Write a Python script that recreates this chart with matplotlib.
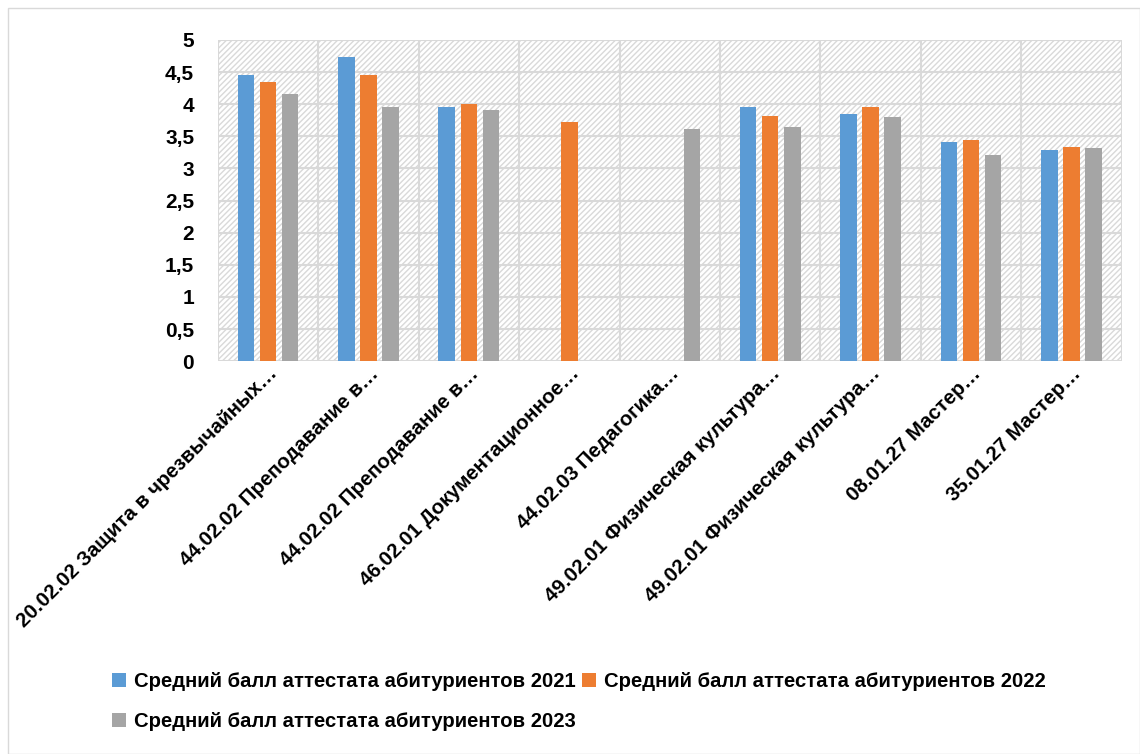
import numpy as np
import matplotlib
matplotlib.use('Agg')
import matplotlib.pyplot as plt
from matplotlib.patches import Rectangle
from matplotlib.transforms import ScaledTranslation

plt.rcParams['font.family'] = ['Liberation Sans', 'DejaVu Sans']
plt.rcParams['hatch.color'] = '#d9d9d9'
plt.rcParams['hatch.linewidth'] = 1.0

categories = ['20.02.02 Защита в чрезвычайных…',
              '44.02.02 Преподавание в…',
              '44.02.02 Преподавание в…',
              '46.02.01 Документационное…',
              '44.02.03 Педагогика…',
              '49.02.01 Физическая культура…',
              '49.02.01 Физическая культура…',
              '08.01.27 Мастер…',
              '35.01.27 Мастер…']
series_names = ['Средний балл аттестата абитуриентов 2021',
                'Средний балл аттестата абитуриентов 2022',
                'Средний балл аттестата абитуриентов 2023']
v2021 = [4.45, 4.73, 3.96, np.nan, np.nan, 3.96, 3.85, 3.41, 3.29]
v2022 = [4.35, 4.45, 4.00, 3.72, np.nan, 3.82, 3.96, 3.44, 3.33]
v2023 = [4.16, 3.96, 3.91, np.nan, 3.61, 3.64, 3.80, 3.21, 3.32]
colors = ['#5b9bd5', '#ed7d31', '#a5a5a5']
yticks = [0, 0.5, 1, 1.5, 2, 2.5, 3, 3.5, 4, 4.5, 5]

fig = plt.figure(figsize=(11.4, 7.54), dpi=100)
fig.patches.append(Rectangle((0.007, 0.0), 0.993, 0.99, transform=fig.transFigure,
                             fill=False, edgecolor='#d9d9d9', linewidth=1))
ax = fig.add_axes([0.191, 0.521, 0.793, 0.426])

n = len(categories)
x = np.arange(n)
ax.set_xlim(-0.5, n - 0.5)
ax.set_ylim(0, 5)

# hatched background
ax.add_patch(Rectangle((0, 0), 1, 1, transform=ax.transAxes, facecolor='white',
                       hatch='//////', edgecolor='#d9d9d9', linewidth=0, zorder=0))

bars = []
for i, vals in enumerate([v2021, v2022, v2023]):
    bars.append(ax.bar(x + (i - 1) * 0.22, vals, width=0.165, color=colors[i],
                       label=series_names[i], zorder=3))

for yv in yticks:
    ax.axhline(yv, color='#d9d9d9', linewidth=1.5, zorder=1)
for xv in np.arange(-0.5, n, 1):
    ax.axvline(xv, color='#d9d9d9', linewidth=1.5, zorder=1)

for s in ax.spines.values():
    s.set_visible(False)

ax.set_yticks(yticks)
ax.set_yticklabels([('%g' % t).replace('.', ',') for t in yticks],
                   fontsize=15, fontweight='bold')
ax.set_xticks(x)
ax.set_xticklabels(categories, rotation=45, ha='right', va='top', rotation_mode='anchor',
                   fontsize=14.8, fontweight='bold')
shift = ScaledTranslation(28 / 72, 0, fig.dpi_scale_trans)
for lbl in ax.get_xticklabels():
    lbl.set_transform(lbl.get_transform() + shift)
ax.tick_params(axis='both', length=0)
ax.tick_params(axis='x', pad=2)
ax.tick_params(axis='y', pad=17)

fig.legend([bars[0], bars[2], bars[1]],
           [series_names[0], series_names[2], series_names[1]],
           loc='upper left', bbox_to_anchor=(0.082, 0.133), ncol=2, frameon=False,
           prop={'size': 14.6, 'weight': 'bold'}, handlelength=0.7, handleheight=0.7,
           handletextpad=0.4, columnspacing=0.3, labelspacing=1.05)

fig.savefig('out.png', dpi=100)
